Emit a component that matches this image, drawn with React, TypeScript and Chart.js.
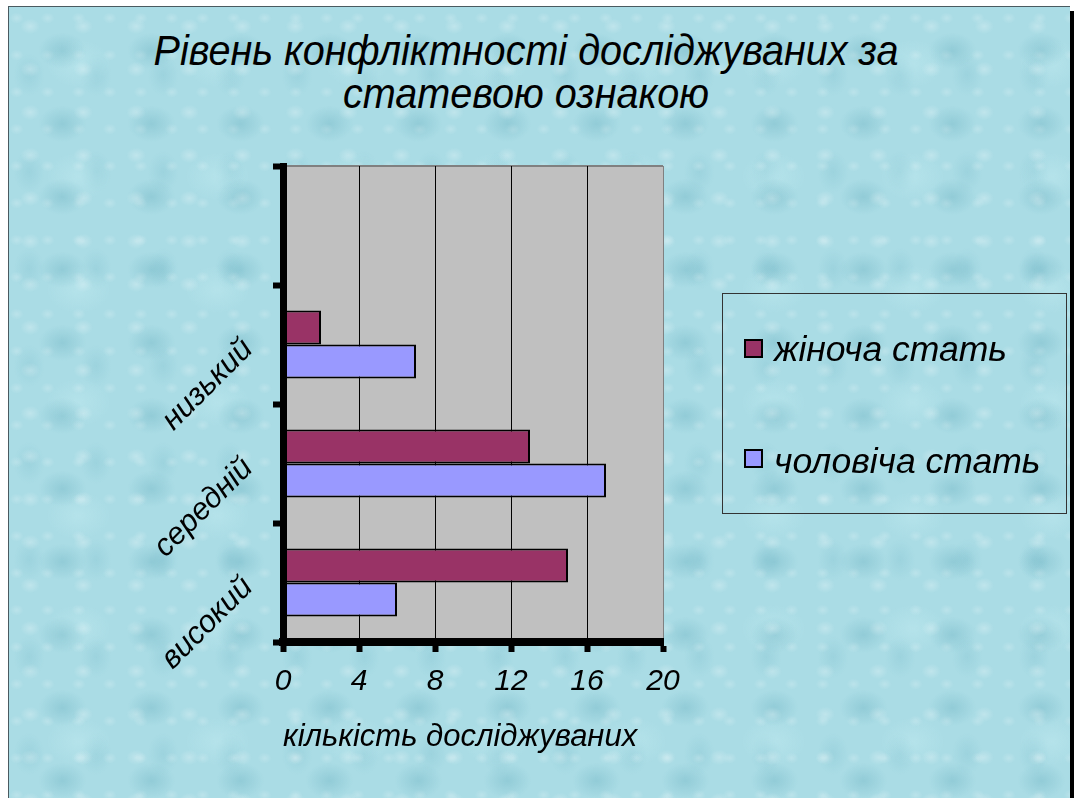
import React, { useEffect, useRef } from 'react';
import { Chart, registerables } from 'chart.js';

Chart.register(...registerables);

// ---- data ----
const categories = ['', 'низький', 'середній', 'високий'];
const femaleValues = [null, 2, 13, 15];
const maleValues = [null, 7, 17, 6];
const seriesNames = ['жіноча стать', 'чоловіча стать'];
const xTickValues = [0, 4, 8, 12, 16, 20];
const titleLines = ['Рівень конфліктності досліджуваних за', 'статевою ознакою'];
const xAxisTitle = 'кількість досліджуваних';

const FEMALE_COLOR = '#993366';
const MALE_COLOR = '#9999ff';
const FONT = "'Liberation Sans', Arial, sans-serif";

function measure(text: string, font: string): number {
  const c = document.createElement('canvas');
  const ctx = c.getContext('2d');
  if (!ctx) return text.length * 10;
  ctx.font = font;
  return ctx.measureText(text).width;
}

const plotBg = {
  id: 'plotBg',
  beforeDraw(chart: any) {
    const { ctx, chartArea: a } = chart;
    ctx.save();
    ctx.fillStyle = '#c0c0c0';
    ctx.fillRect(a.left, a.top, a.right - a.left, a.bottom - a.top);
    ctx.strokeStyle = '#808080';
    ctx.lineWidth = 2;
    ctx.beginPath();
    ctx.moveTo(a.left, a.top);
    ctx.lineTo(a.right, a.top);
    ctx.stroke();
    ctx.restore();
  },
};

function ChartCanvas() {
  const ref = useRef<HTMLCanvasElement | null>(null);
  useEffect(() => {
    if (!ref.current) return;
    const chart = new Chart(ref.current, {
      type: 'bar',
      data: {
        labels: categories,
        datasets: [
          {
            label: seriesNames[0],
            data: femaleValues,
            backgroundColor: FEMALE_COLOR,
            borderColor: '#000',
            borderWidth: 2,
            borderSkipped: false,
            categoryPercentage: 0.572,
            barPercentage: 1,
          },
          {
            label: seriesNames[1],
            data: maleValues,
            backgroundColor: MALE_COLOR,
            borderColor: '#000',
            borderWidth: 2,
            borderSkipped: false,
            categoryPercentage: 0.572,
            barPercentage: 1,
          },
        ],
      },
      options: {
        indexAxis: 'y',
        responsive: false,
        animation: false,
        devicePixelRatio: 1,
        layout: { padding: { left: 0, right: 411, top: 166, bottom: 0 } },
        plugins: {
          legend: { display: false },
          tooltip: { enabled: false },
          title: { display: false },
        },
        scales: {
          x: {
            type: 'linear',
            min: 0,
            max: 20,
            afterBuildTicks: (s: any) => {
              s.ticks = xTickValues.map((v) => ({ value: v }));
            },
            afterFit: (s: any) => {
              s.height = 156;
            },
            grid: {
              color: (c: any) => (c.tick && c.tick.value === 20 ? '#808080' : '#000'),
              lineWidth: 1,
              tickColor: '#000',
              tickWidth: 6,
              tickLength: 10,
            },
            border: { display: true, color: '#000', width: 8, z: 1 },
            ticks: {
              color: '#000',
              padding: 12,
              font: { family: FONT, style: 'italic', size: 30 },
            },
            title: {
              display: true,
              text: xAxisTitle,
              align: 'start',
              color: '#000',
              font: { family: FONT, style: 'italic', size: 31 },
              padding: { top: 0, bottom: 42 },
            },
          },
          y: {
            type: 'category',
            offset: true,
            afterFit: (s: any) => {
              s.width = 283;
            },
            grid: {
              offset: true,
              drawOnChartArea: false,
              drawTicks: true,
              tickColor: '#000',
              tickWidth: 6,
              tickLength: 10,
            },
            border: { display: true, color: '#000', width: 7, z: 1 },
            ticks: {
              autoSkip: false,
              minRotation: 45,
              maxRotation: 45,
              padding: 25,
              color: '#000',
              font: { family: FONT, style: 'italic', size: 31 },
            },
          },
        },
      },
      plugins: [plotBg],
    } as any);
    return () => chart.destroy();
  }, []);
  return (
    <canvas
      ref={ref}
      width={1074}
      height={798}
      style={{ position: 'absolute', left: 0, top: 0, width: 1074, height: 798 }}
    />
  );
}

export default function App() {
  const titleFont = `italic 42px ${FONT}`;
  const titleScale = 745 / measure(titleLines[0], titleFont);
  const legendFont = `italic 35px ${FONT}`;
  const legendScale = 233 / measure(seriesNames[0], legendFont);
  const legendColors = [FEMALE_COLOR, MALE_COLOR];
  const legendBaselines = [361, 473];
  const squareTops = [339, 449];

  return (
    <div
      style={{
        position: 'absolute',
        left: 0,
        top: 0,
        width: 1074,
        height: 798,
        overflow: 'hidden',
        background: '#ffffff',
      }}
    >
      <div
        style={{
          position: 'absolute',
          left: 8,
          top: 6,
          width: 1062,
          height: 800,
          boxSizing: 'border-box',
          borderLeft: '1px solid #4a5a60',
          borderTop: '1px solid #4a5a60',
          backgroundColor: '#aadce5',
          backgroundImage: [
            'radial-gradient(ellipse 14px 11px at 40% 45%, rgba(255,255,255,0.25), rgba(255,255,255,0) 70%)',
            'radial-gradient(ellipse 34px 26px at 60% 60%, rgba(60,145,165,0.22), rgba(60,145,165,0) 70%)',
            'radial-gradient(ellipse 10px 8px at 25% 30%, rgba(255,255,255,0.2), rgba(255,255,255,0) 70%)',
            'radial-gradient(ellipse 46px 34px at 50% 50%, rgba(205,242,246,0.3), rgba(205,242,246,0) 70%)',
            'radial-gradient(ellipse 22px 30px at 30% 70%, rgba(80,160,180,0.15), rgba(80,160,180,0) 70%)',
          ].join(','),
          backgroundSize: '53px 43px, 89px 73px, 31px 37px, 139px 113px, 67px 97px',
        }}
      />
      <div
        style={{
          position: 'absolute',
          left: 1070,
          top: 11,
          width: 4,
          height: 787,
          background: '#000',
        }}
      />
      {titleLines.map((line, i) => (
        <div
          key={i}
          style={{
            position: 'absolute',
            left: 526,
            top: (i === 0 ? 66 : 109) - 0.8465 * 42,
            font: titleFont,
            lineHeight: '42px',
            whiteSpace: 'nowrap',
            color: '#000',
            transform: `translateX(-50%) scaleX(${titleScale})`,
          }}
        >
          {line}
        </div>
      ))}
      <ChartCanvas />
      <div
        style={{
          position: 'absolute',
          left: 722,
          top: 293,
          width: 345,
          height: 221,
          boxSizing: 'border-box',
          border: '1px solid #333',
        }}
      />
      {seriesNames.map((name, i) => (
        <React.Fragment key={name}>
          <div
            style={{
              position: 'absolute',
              left: 744,
              top: squareTops[i],
              width: 19,
              height: 19,
              boxSizing: 'border-box',
              border: '2px solid #000',
              background: legendColors[i],
            }}
          />
          <div
            style={{
              position: 'absolute',
              left: 774,
              top: legendBaselines[i] - 0.8465 * 35,
              font: legendFont,
              lineHeight: '35px',
              whiteSpace: 'nowrap',
              color: '#000',
              transformOrigin: 'left center',
              transform: `scaleX(${legendScale})`,
            }}
          >
            {name}
          </div>
        </React.Fragment>
      ))}
    </div>
  );
}
